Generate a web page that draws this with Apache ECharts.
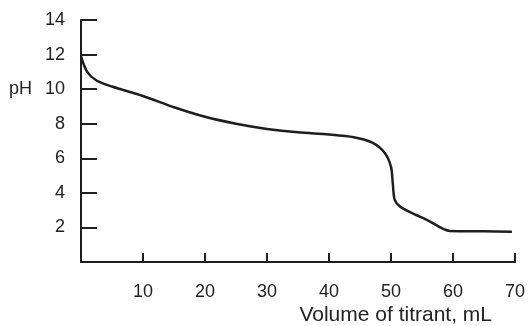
<!DOCTYPE html>
<html>
<head>
<meta charset="utf-8">
<script src="https://cdn.jsdelivr.net/npm/echarts@6/dist/echarts.min.js"></script>
<style>
  html, body { margin: 0; padding: 0; background: #fff; }
  #chart { width: 528px; height: 326px; }
</style>
</head>
<body>
<div id="chart"></div>
<script>
const volume = [0, 1, 2.5, 5, 10, 15, 20, 25, 30, 35, 40, 44, 47, 49, 50, 50.3, 50.6, 51.5, 53, 56, 59.5, 65, 69.5];
const ph = [11.9, 11.0, 10.5, 10.15, 9.6, 8.95, 8.4, 8.0, 7.7, 7.5, 7.38, 7.22, 6.9, 6.3, 5.5, 4.5, 3.6, 3.2, 2.9, 2.4, 1.8, 1.78, 1.75];

const xTicks = [0, 10, 20, 30, 40, 50, 60, 70];
const yTicks = [0, 2, 4, 6, 8, 10, 12, 14];

const ink = '#1e1e1e';
const font = 'Liberation Sans, Arial, sans-serif';

const chart = echarts.init(document.getElementById('chart'));

chart.setOption({
  backgroundColor: '#fff',
  animation: false,
  grid: { left: 81, right: 11, top: 20, bottom: 64 },
  xAxis: {
    type: 'value',
    min: xTicks[0],
    max: xTicks[xTicks.length - 1],
    interval: 10,
    axisLine: { lineStyle: { color: ink, width: 2 } },
    axisTick: { inside: true, length: 9, lineStyle: { color: ink, width: 2 } },
    axisLabel: {
      margin: 21, color: '#222', fontSize: 18, fontFamily: font,
      formatter: (v) => (v === 0 ? '' : String(v)),
    },
    splitLine: { show: false },
  },
  yAxis: {
    type: 'value',
    min: yTicks[0],
    max: yTicks[yTicks.length - 1],
    interval: 2,
    axisLine: { show: true, lineStyle: { color: ink, width: 2 } },
    axisTick: { show: true, inside: true, length: 16, lineStyle: { color: ink, width: 2 } },
    axisLabel: {
      margin: 16, color: '#222', fontSize: 18, fontFamily: font,
      formatter: (v) => (v === 0 ? '' : String(v)),
    },
    splitLine: { show: false },
  },
  graphic: [
    { type: 'text', left: 9, top: 80, style: { text: 'pH', fill: '#222', font: '18px ' + font } },
    { type: 'text', right: 36, top: 305, style: { text: 'Volume of titrant, mL', fill: '#222', font: '21px ' + font } },
  ],
  series: [{
    type: 'line',
    data: volume.map((v, i) => [v, ph[i]]),
    smooth: 0.3,
    showSymbol: false,
    lineStyle: { color: ink, width: 2.5 },
  }],
});
</script>
</body>
</html>
